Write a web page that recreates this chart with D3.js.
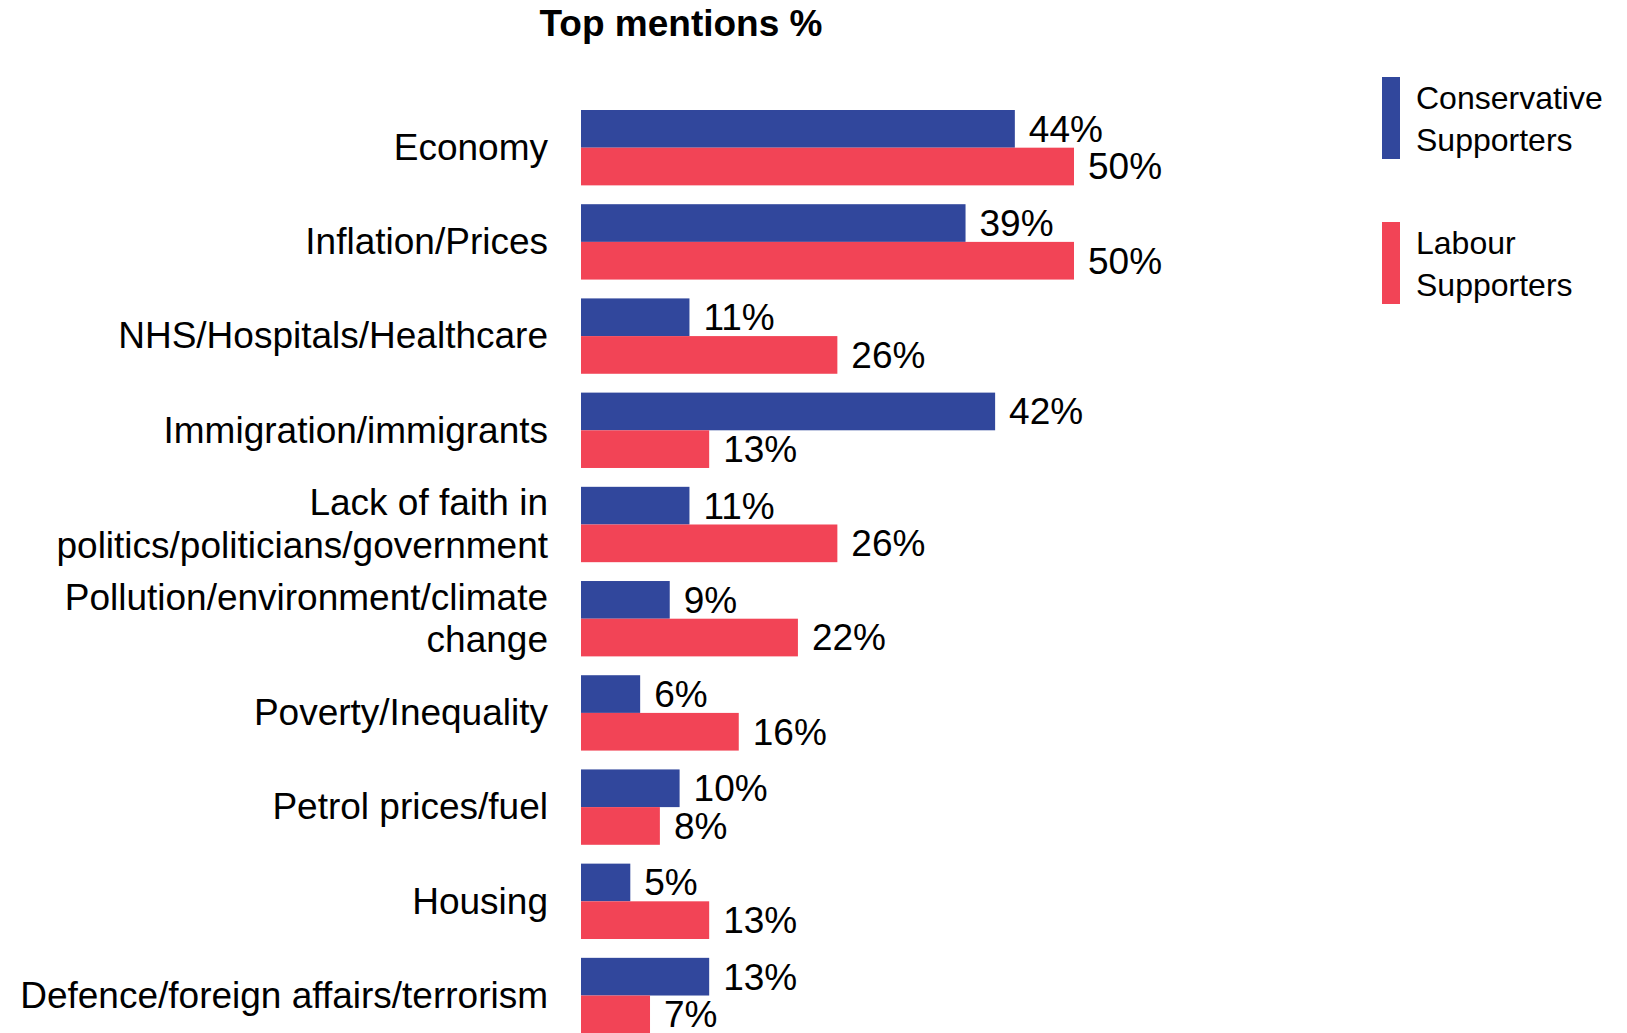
<!DOCTYPE html>
<html><head><meta charset="utf-8">
<script src="https://cdn.jsdelivr.net/npm/d3@7"></script>
<style>
html,body{margin:0;padding:0;background:#fff;}
svg{display:block;}
text{font-family:"Liberation Sans",Arial,sans-serif;fill:#000;}
</style></head>
<body>
<script>
const categories = [
  ["Economy"],
  ["Inflation/Prices"],
  ["NHS/Hospitals/Healthcare"],
  ["Immigration/immigrants"],
  ["Lack of faith in", "politics/politicians/government"],
  ["Pollution/environment/climate", "change"],
  ["Poverty/Inequality"],
  ["Petrol prices/fuel"],
  ["Housing"],
  ["Defence/foreign affairs/terrorism"]
];
const conservative = [44, 39, 11, 42, 11, 9, 6, 10, 5, 13];
const labour = [50, 50, 26, 13, 26, 22, 16, 8, 13, 7];
const seriesNames = [["Conservative", "Supporters"], ["Labour", "Supporters"]];
const seriesKeys = ["con", "lab"];
const colors = ["#31479c", "#f24456"];
const title = "Top mentions %";

const W = 1627, H = 1033;
const svg = d3.select("body").append("svg").attr("width", W).attr("height", H);

const ids = categories.map((c, i) => "c" + i);
const y = d3.scaleBand().domain(ids).range([110, 1033.2]).paddingInner(0.2).paddingOuter(0);
const ySub = d3.scaleBand().domain(seriesKeys).range([0, y.bandwidth()]);
const x = d3.scaleLinear().domain([0, 50]).range([581, 1074]);

const data = ids.map((id, i) => ({id, label: categories[i], con: conservative[i], lab: labour[i]}));

// title
svg.append("text").attr("x", 681).attr("y", 36).attr("text-anchor", "middle")
  .style("font-weight", "bold").style("font-size", "37px").text(title);

const fs = 37;
const g = svg.selectAll("g.grp").data(data).join("g").attr("class", "grp")
  .attr("transform", d => `translate(0,${y(d.id)})`);

seriesKeys.forEach((k, si) => {
  g.append("rect")
    .attr("x", x(0))
    .attr("y", ySub(k))
    .attr("width", d => x(d[k]) - x(0))
    .attr("height", ySub.bandwidth())
    .attr("fill", colors[si]);
  g.append("text")
    .attr("x", d => x(d[k]) + 14)
    .attr("y", ySub(k) + ySub.bandwidth() / 2 + fs * 0.35)
    .style("font-size", fs + "px")
    .text(d => d[k] + "%");
});

// category labels
const lineH = 42.5;
g.each(function(d) {
  const sel = d3.select(this);
  const n = d.label.length;
  const cy = y.bandwidth() / 2;
  d.label.forEach((ln, li) => {
    sel.append("text")
      .attr("x", 548)
      .attr("y", cy + (li - (n - 1) / 2) * lineH + fs * 0.33)
      .attr("text-anchor", "end")
      .style("font-size", fs + "px")
      .text(ln);
  });
});

// legend
const leg = svg.append("g");
const legTops = [77, 222];
seriesNames.forEach((nm, i) => {
  leg.append("rect").attr("x", 1382).attr("y", legTops[i]).attr("width", 18).attr("height", 82).attr("fill", colors[i]);
  nm.forEach((t, li) => {
    leg.append("text").attr("x", 1416).attr("y", legTops[i] + 32 + li * 42)
      .style("font-size", "32px").text(t);
  });
});
</script>
</body></html>
